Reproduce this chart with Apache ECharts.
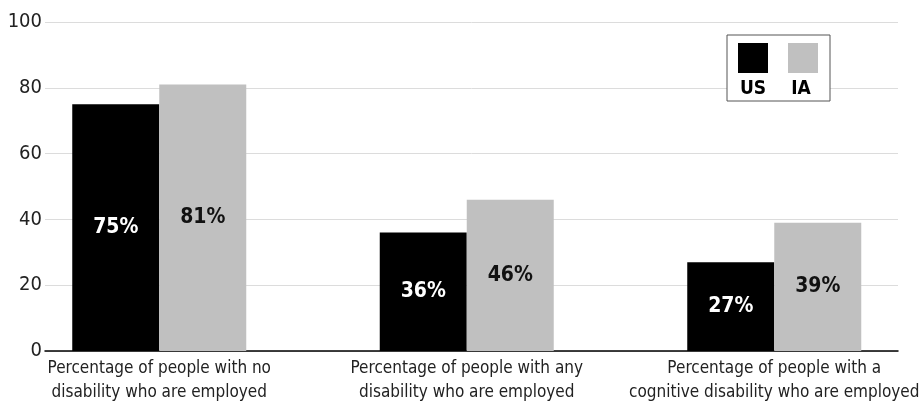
<!DOCTYPE html>
<html>
<head>
<meta charset="utf-8">
<script src="https://cdn.jsdelivr.net/npm/echarts@6/dist/echarts.min.js"></script>
<style>
html,body{margin:0;padding:0;background:#fff;}
#chart{width:920px;height:404px;}
</style>
</head>
<body>
<div id="chart"></div>
<script>
const categories = [
  "Percentage of people with no\ndisability who are employed",
  "Percentage of people with any\ndisability who are employed",
  "Percentage of people with a\ncognitive disability who are employed"
];
const seriesNames = ["US", "IA"];
const usValues = [75, 36, 27];
const iaValues = [81, 46, 39];
const yTicks = [0, 20, 40, 60, 80, 100];

const FONT = '"Liberation Sans Narrow","DejaVu Sans Condensed","Roboto Condensed","Open Sans",sans-serif';

const chart = echarts.init(document.getElementById('chart'), null, {renderer: 'canvas'});
chart.setOption({
  backgroundColor: '#fff',
  animation: false,
  textStyle: {fontFamily: FONT},
  grid: [
    {left: 5.5, top: 22, width: 922.5, bottom: 53, containLabel: false, outerBoundsMode: 'none'},
    {left: 45, top: 22, right: 22, bottom: 53, containLabel: false, outerBoundsMode: 'none'}
  ],
  legend: {
    data: seriesNames,
    left: 727, top: 35,
    orient: 'horizontal',
    icon: 'rect',
    itemWidth: 30, itemHeight: 30,
    itemGap: 20,
    formatter: () => '',
    padding: [8, 12, 28, 11],
    borderColor: '#555', borderWidth: 1,
    backgroundColor: '#fff',
    selectedMode: false,
    z: 10
  },
  graphic: [
    {type: 'text', x: 753, y: 89, z: 100, style: {text: seriesNames[0], font: 'bold 19px ' + FONT, fill: '#000', align: 'center', verticalAlign: 'middle'}},
    {type: 'text', x: 801, y: 89, z: 100, style: {text: seriesNames[1], font: 'bold 19px ' + FONT, fill: '#000', align: 'center', verticalAlign: 'middle'}}
  ],
  xAxis: [
    {
      type: 'category', gridIndex: 0, data: categories,
      axisLine: {show: false}, axisTick: {show: false},
      axisLabel: {interval: 0, margin: 6, fontSize: 17, lineHeight: 24, color: '#222', fontFamily: FONT}
    },
    {
      type: 'category', gridIndex: 1, data: categories,
      axisLine: {show: true, lineStyle: {color: '#000', width: 1.5}},
      axisTick: {show: false}, axisLabel: {show: false}
    }
  ],
  yAxis: [
    {type: 'value', gridIndex: 0, min: 0, max: 100, interval: 20, show: false},
    {
      type: 'value', gridIndex: 1, min: yTicks[0], max: yTicks[yTicks.length - 1], interval: 20,
      axisLine: {show: false}, axisTick: {show: false},
      axisLabel: {margin: 3, fontSize: 20, color: '#222', fontFamily: FONT},
      splitLine: {lineStyle: {color: '#dcdcdc', width: 1}}
    }
  ],
  series: [
    {
      name: seriesNames[0], type: 'bar', xAxisIndex: 0, yAxisIndex: 0,
      data: usValues, barWidth: 87, barGap: '0%',
      itemStyle: {color: '#000'},
      label: {show: true, position: 'inside', formatter: '{c}%', color: '#fff', fontWeight: 'bold', fontSize: 21, fontFamily: FONT}
    },
    {
      name: seriesNames[1], type: 'bar', xAxisIndex: 0, yAxisIndex: 0,
      data: iaValues, barWidth: 87, barGap: '0%',
      itemStyle: {color: '#c0c0c0'},
      label: {show: true, position: 'inside', formatter: '{c}%', color: '#111', fontWeight: 'bold', fontSize: 21, fontFamily: FONT}
    }
  ]
});
</script>
</body>
</html>
